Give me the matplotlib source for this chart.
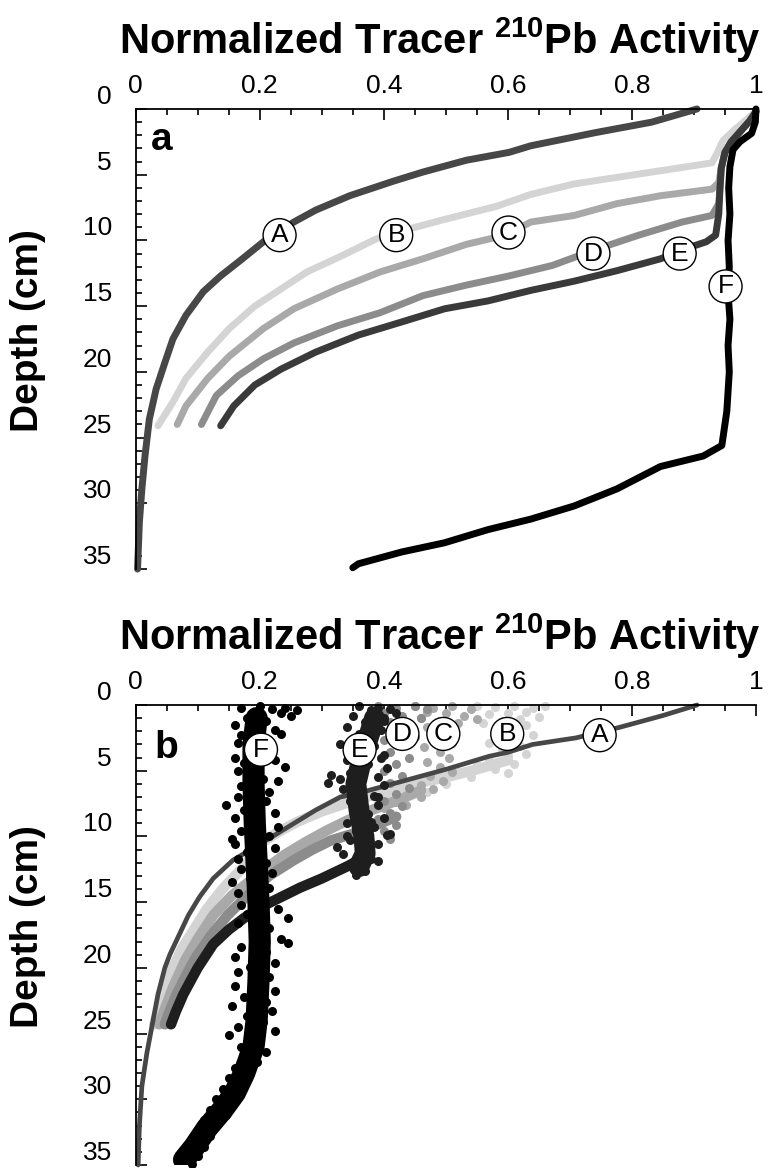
import matplotlib.pyplot as plt
from matplotlib.ticker import MultipleLocator

plt.rcParams['font.family'] = ['Liberation Sans', 'DejaVu Sans']

# tick labels
x_ticks = [0, 0.2, 0.4, 0.6, 0.8, 1.0]
x_ticklabels = ['0', '0.2', '0.4', '0.6', '0.8', '1']
y_ticks = [0, 5, 10, 15, 20, 25, 30, 35]
y_ticklabels = ['0', '5', '10', '15', '20', '25', '30', '35']

# ---------------- panel a : smooth profiles (activity, depth cm) ----------------
a_A_x = [0.905, 0.832, 0.741, 0.637, 0.602, 0.533, 0.463, 0.415, 0.345, 0.29, 0.255, 0.206,
         0.172, 0.137, 0.109, 0.081, 0.06, 0.047, 0.033, 0.022, 0.015, 0.01, 0.006, 0.003]
a_A_d = [0.0, 1.0, 1.8, 2.8, 3.3, 3.9, 4.8, 5.5, 6.6, 7.7, 8.6, 10.1,
         11.4, 12.7, 13.9, 15.7, 17.5, 19.3, 21.3, 23.6, 26.4, 28.9, 31.4, 35.0]

a_B_x = [1.0, 0.985, 0.965, 0.947, 0.938, 0.929, 0.86, 0.776, 0.707, 0.637, 0.582, 0.498,
         0.443, 0.387, 0.331, 0.276, 0.234, 0.192, 0.151, 0.116, 0.081, 0.06, 0.036]
a_B_d = [0.2, 0.8, 1.6, 2.4, 3.3, 4.1, 4.6, 5.2, 5.7, 6.5, 7.4, 8.4,
         9.1, 9.9, 11.2, 12.4, 13.7, 15.0, 16.7, 18.5, 20.5, 22.3, 24.1]

a_C_x = [1.0, 0.99, 0.975, 0.96, 0.95, 0.944, 0.94, 0.929, 0.846, 0.776, 0.707, 0.637,
         0.596, 0.533, 0.463, 0.394, 0.325, 0.255, 0.206, 0.151, 0.116, 0.081, 0.067]
a_C_d = [0.2, 0.9, 1.7, 2.5, 3.3, 4.5, 5.6, 6.1, 6.6, 7.2, 8.1, 8.6,
         9.6, 10.3, 11.4, 12.4, 13.7, 15.2, 16.7, 18.8, 20.5, 22.6, 24.0]

a_D_x = [1.0, 0.99, 0.975, 0.96, 0.95, 0.944, 0.942, 0.94, 0.929, 0.881, 0.811, 0.741,
         0.672, 0.602, 0.533, 0.463, 0.394, 0.325, 0.255, 0.206, 0.165, 0.13, 0.106]
a_D_d = [0.2, 0.9, 1.7, 2.5, 3.3, 4.5, 6.0, 7.2, 8.1, 8.6, 9.6, 10.7,
         11.9, 12.7, 13.4, 14.2, 15.5, 16.5, 17.8, 19.0, 20.3, 21.8, 24.0]

a_E_x = [1.0, 0.99, 0.975, 0.96, 0.95, 0.944, 0.942, 0.94, 0.935, 0.92, 0.901, 0.846,
         0.776, 0.707, 0.637, 0.568, 0.498, 0.429, 0.359, 0.29, 0.234, 0.192, 0.158, 0.137]
a_E_d = [0.2, 0.9, 1.7, 2.5, 3.3, 4.5, 6.0, 8.0, 9.6, 10.1, 10.4, 11.4,
         12.3, 13.1, 13.8, 14.6, 15.2, 16.2, 17.2, 18.5, 19.8, 21.0, 22.6, 24.1]

a_F_x = [1.0, 0.999, 0.993, 0.974, 0.963, 0.958, 0.956, 0.958, 0.955, 0.957, 0.955, 0.958,
         0.955, 0.957, 0.953, 0.945, 0.915, 0.846, 0.776, 0.707, 0.637, 0.568, 0.498,
         0.429, 0.359, 0.35]
a_F_d = [0.0, 1.0, 1.85, 2.5, 3.1, 4.4, 6.0, 8.0, 10.0, 12.0, 14.0, 16.0,
         18.0, 20.0, 23.0, 25.6, 26.4, 27.2, 28.9, 30.2, 31.2, 32.0, 33.0,
         33.7, 34.6, 34.9]

# ---------------- panel b : noisy profiles ----------------
b_A_x = [0.905, 0.85, 0.78, 0.71, 0.64, 0.6, 0.57, 0.5, 0.43, 0.36, 0.33, 0.29, 0.245, 0.2,
         0.157, 0.125, 0.103, 0.085, 0.071, 0.055, 0.047, 0.036, 0.028, 0.018, 0.01, 0.006, 0.004]
b_A_d = [0.0, 0.8, 1.7, 2.5, 3.0, 3.6, 3.9, 4.9, 5.8, 6.7, 7.0, 8.0, 9.3, 10.6,
         11.8, 13.2, 14.6, 16.0, 17.4, 19.0, 20.0, 22.0, 24.0, 26.5, 29.0, 32.0, 35.0]

b_B_x = [0.6, 0.55, 0.5, 0.45, 0.4, 0.35, 0.3, 0.26, 0.225, 0.19, 0.18, 0.14, 0.115,
         0.095, 0.075, 0.06, 0.047, 0.037, 0.03]
b_B_d = [4.2, 4.9, 5.5, 6.0, 6.6, 7.3, 8.1, 8.9, 9.8, 10.9, 12.0, 14.0, 15.5,
         17.0, 18.5, 20.0, 22.0, 23.3, 24.3]
b_B_pts_x = [0.55, 0.58, 0.61, 0.64, 0.66, 0.63, 0.6, 0.57, 0.65, 0.62, 0.59, 0.56, 0.63,
             0.6, 0.58, 0.64, 0.61, 0.57, 0.62, 0.59, 0.63, 0.6, 0.57, 0.61, 0.55, 0.58,
             0.52, 0.6, 0.54, 0.49, 0.5, 0.46, 0.44, 0.47, 0.41, 0.39, 0.36]
b_B_pts_d = [0.1, 0.15, 0.1, 0.2, 0.1, 0.5, 0.6, 0.7, 0.9, 1.1, 1.2, 1.4, 1.5,
             1.8, 2.1, 2.3, 2.6, 2.9, 3.1, 3.4, 3.7, 3.9, 4.2, 4.5, 4.6, 4.9,
             5.1, 5.2, 5.5, 5.6, 6.0, 6.1, 6.5, 6.6, 6.9, 7.3, 7.6]

b_C_x = [0.46, 0.42, 0.38, 0.345, 0.31, 0.275, 0.24, 0.205, 0.155, 0.125, 0.1, 0.08,
         0.06, 0.048, 0.038]
b_C_d = [6.5, 7.3, 8.0, 8.7, 9.5, 10.4, 11.4, 12.6, 14.5, 16.0, 17.8, 19.4,
         21.5, 23.0, 24.3]
b_C_pts_x = [0.45, 0.48, 0.51, 0.54, 0.47, 0.5, 0.53, 0.46, 0.49, 0.52, 0.55, 0.47,
             0.5, 0.48, 0.51, 0.465, 0.49, 0.505, 0.47, 0.49, 0.51, 0.475, 0.495, 0.46,
             0.48, 0.44, 0.46, 0.42, 0.4, 0.435]
b_C_pts_d = [0.1, 0.2, 0.1, 0.3, 0.5, 0.6, 0.8, 1.0, 1.2, 1.4, 1.1, 1.7,
             2.0, 2.5, 2.9, 3.2, 3.6, 4.0, 4.3, 4.7, 5.1, 5.4, 5.8, 6.1,
             6.4, 6.8, 7.0, 7.4, 7.8, 7.6]

b_D_x = [0.42, 0.385, 0.35, 0.315, 0.285, 0.255, 0.215, 0.178, 0.148, 0.122, 0.097,
         0.082, 0.066, 0.053, 0.047]
b_D_d = [8.5, 9.2, 9.8, 10.3, 11.0, 11.8, 13.0, 14.6, 16.0, 17.5, 19.2,
         20.5, 22.0, 23.5, 24.3]
b_D_pts_x = [0.39, 0.42, 0.45, 0.47, 0.4, 0.43, 0.46, 0.41, 0.44, 0.42, 0.45, 0.4,
             0.43, 0.41, 0.44, 0.42, 0.4, 0.43, 0.41, 0.44, 0.42, 0.4, 0.43, 0.41,
             0.39, 0.42, 0.4, 0.41, 0.38]
b_D_pts_d = [0.1, 0.2, 0.1, 0.3, 0.6, 0.8, 1.0, 1.3, 1.6, 2.0, 2.4, 2.7,
             3.1, 3.6, 4.0, 4.5, 5.0, 5.4, 5.9, 6.3, 6.8, 7.3, 7.7, 8.2,
             8.7, 9.1, 9.6, 10.2, 10.5]

b_E_core_x = [0.385, 0.375, 0.365, 0.355, 0.36, 0.368, 0.37, 0.36]
b_E_core_d = [1.0, 2.5, 4.0, 6.0, 8.0, 10.0, 11.3, 12.3]
b_E_x = [0.36, 0.34, 0.3, 0.265, 0.235, 0.205, 0.175, 0.15, 0.125, 0.1, 0.077, 0.065, 0.057]
b_E_d = [11.8, 12.3, 13.2, 13.9, 14.6, 15.3, 16.2, 17.1, 18.2, 20.0, 22.0, 23.3, 24.3]
b_E_pts_x = [0.36, 0.39, 0.41, 0.42, 0.35, 0.4, 0.37, 0.425, 0.34, 0.395,
             0.36, 0.41, 0.345, 0.385, 0.35, 0.4, 0.34, 0.375, 0.405,
             0.315, 0.33, 0.31, 0.345, 0.39, 0.4, 0.335, 0.36, 0.385,
             0.345, 0.39, 0.35, 0.375, 0.4, 0.34, 0.385, 0.355, 0.405, 0.345, 0.39,
             0.36, 0.335, 0.38, 0.35, 0.37, 0.41, 0.325, 0.39, 0.355,
             0.38, 0.4, 0.37, 0.33, 0.395, 0.35, 0.38, 0.34, 0.39, 0.365]
b_E_pts_d = [0.1, 0.2, 0.3, 0.6, 0.8, 1.0, 1.3, 1.5, 1.7, 1.9,
             2.2, 2.5, 2.8, 3.1, 3.5, 3.8, 4.2, 4.5, 4.8,
             5.3, 5.6, 5.9, 5.2, 5.5, 6.1, 6.4, 6.7, 6.9,
             7.3, 7.6, 8.0, 8.3, 8.6, 9.0, 9.3, 9.6, 9.9, 10.3, 10.6,
             11.0, 11.3, 11.7, 12.1, 12.6, 9.8, 10.8, 7.0, 12.9,
             0.4, 1.2, 2.0, 3.0, 4.0, 7.8, 8.9, 10.0, 11.9, 5.0]

b_F_core_x = [0.195, 0.19, 0.19, 0.192, 0.195, 0.198, 0.2, 0.198, 0.195, 0.19, 0.175, 0.16,
              0.14, 0.115, 0.095, 0.078]
b_F_core_d = [1.0, 3.0, 6.0, 9.0, 12.0, 15.0, 18.0, 21.0, 24.0, 26.0, 28.0, 29.5,
              30.8, 32.2, 33.6, 34.6]
b_F_pts_x = [0.17, 0.2, 0.22, 0.24, 0.26, 0.25, 0.235, 0.18, 0.21, 0.16, 0.19, 0.225, 0.17,
             0.2, 0.235, 0.165, 0.215,
             0.16, 0.175, 0.225, 0.24, 0.165, 0.205, 0.23, 0.17, 0.185,
             0.215, 0.165, 0.145, 0.21, 0.175, 0.225, 0.16, 0.2, 0.23, 0.17, 0.155, 0.215,
             0.16, 0.225, 0.18, 0.165, 0.21, 0.17, 0.22, 0.185, 0.155, 0.215, 0.165, 0.205,
             0.17, 0.23, 0.18, 0.245, 0.165, 0.215, 0.19, 0.235, 0.245, 0.17, 0.21, 0.16,
             0.225, 0.185,
             0.165, 0.215, 0.2, 0.16, 0.225, 0.175, 0.21, 0.155, 0.22, 0.18, 0.205, 0.165,
             0.225, 0.185, 0.2, 0.17, 0.15,
             0.21, 0.175, 0.195, 0.16, 0.185, 0.15, 0.175, 0.14, 0.165, 0.13, 0.155, 0.12,
             0.145, 0.11, 0.13, 0.1, 0.12, 0.09, 0.11, 0.08, 0.1, 0.07, 0.09, 0.125, 0.14]
b_F_pts_d = [0.2, 0.1, 0.3, 0.2, 0.4, 0.8, 0.6, 1.0, 1.2, 1.5, 1.7, 1.9, 2.3,
             2.5, 2.2, 2.9, 3.1,
             4.0, 4.4, 4.2, 4.7, 5.0, 5.6, 5.8, 6.2, 5.3,
             6.6, 7.0, 7.6, 7.3, 8.0, 8.2, 8.6, 8.9, 9.3, 9.6, 10.2, 10.0,
             10.6, 10.9, 11.2, 11.7, 12.0, 12.5, 12.8, 13.2, 13.5, 13.9, 14.3, 14.7,
             15.2, 15.5, 15.9, 16.2, 16.6, 17.0, 17.4, 17.8, 18.1, 18.4, 18.8, 19.2,
             19.6, 19.9,
             20.3, 20.7, 21.1, 21.4, 21.8, 22.2, 22.6, 22.9, 23.3, 23.7, 24.1, 24.5,
             24.8, 25.2, 25.6, 26.0, 25.1,
             26.4, 26.8, 27.2, 27.6, 28.0, 28.4, 28.8, 29.2, 29.6, 30.0, 30.4, 30.8,
             31.2, 31.6, 32.0, 32.4, 32.8, 33.2, 33.6, 34.0, 34.3, 34.6, 34.9, 31.0, 30.2]

col = {'A': '#474747', 'B': '#d4d4d4', 'C': '#a9a9a9', 'D': '#8c8c8c',
       'E': '#3a3a3a', 'F': '#000000'}
col_bE = '#1e1e1e'

fig = plt.figure(figsize=(7.74, 11.68), dpi=100)
ax1 = fig.add_axes([0.1753, 0.5128, 0.8014, 0.3939])
ax2 = fig.add_axes([0.1753, 0.0026, 0.8014, 0.3938])


def style(ax):
    ax.set_xlim(0, 1)
    ax.set_ylim(35, 0)
    ax.spines['right'].set_visible(False)
    ax.spines['bottom'].set_visible(False)
    for s in ['left', 'top']:
        ax.spines[s].set_linewidth(1.3)
    ax.xaxis.tick_top()
    ax.set_xticks(x_ticks)
    ax.set_xticklabels(x_ticklabels)
    ax.set_yticks(y_ticks)
    ax.set_yticklabels(y_ticklabels)
    ax.xaxis.set_minor_locator(MultipleLocator(0.05))
    ax.yaxis.set_minor_locator(MultipleLocator(1))
    ax.tick_params(which='both', direction='in', width=1.2)
    ax.tick_params(which='major', length=8)
    ax.tick_params(which='minor', length=4.5)
    ax.tick_params(axis='x', which='both', top=True, bottom=False, labelsize=19, pad=8)
    ax.tick_params(axis='y', which='both', left=True, right=False, labelsize=19, pad=17)
    for t in ax.get_yticklabels():
        t.set_verticalalignment('bottom')


def tag(ax, x, d, s):
    ax.text(x, d, s, ha='center', va='center', fontsize=19, zorder=20,
            bbox=dict(boxstyle='circle,pad=0.17', fc='white', ec='black', lw=1))


style(ax1)
style(ax2)

# panel a
lw = 5.0
for xs, ds, c in [(a_A_x, a_A_d, col['A']), (a_B_x, a_B_d, col['B']),
                  (a_C_x, a_C_d, col['C']), (a_D_x, a_D_d, col['D']),
                  (a_E_x, a_E_d, col['E']), (a_F_x, a_F_d, col['F'])]:
    ax1.plot(xs, ds, color=c, lw=lw, solid_capstyle='round', solid_joinstyle='round',
             clip_on=False)

for x, d, s in [(0.232, 9.6, 'A'), (0.42, 9.6, 'B'), (0.601, 9.4, 'C'),
                (0.738, 11.0, 'D'), (0.877, 11.0, 'E'), (0.951, 13.5, 'F')]:
    tag(ax1, x, d, s)
ax1.text(0.025, 3.1, 'a', fontsize=28, fontweight='bold', va='baseline')

# panel b
band = dict(lw=7.5, solid_capstyle='round', solid_joinstyle='round')
ax2.plot(b_B_pts_x, b_B_pts_d, 'o', color=col['B'], ms=6.5, mew=0, clip_on=False)
ax2.plot(b_B_x, b_B_d, color=col['B'], **band)
ax2.plot(b_C_pts_x, b_C_pts_d, 'o', color=col['C'], ms=6.5, mew=0, clip_on=False)
ax2.plot(b_C_x, b_C_d, color=col['C'], **band)
ax2.plot(b_D_pts_x, b_D_pts_d, 'o', color=col['D'], ms=6.5, mew=0, clip_on=False)
ax2.plot(b_D_x, b_D_d, color=col['D'], **band)
ax2.plot(b_A_x, b_A_d, color=col['A'], lw=3.4, solid_capstyle='round', clip_on=False)
ax2.plot(b_E_x, b_E_d, color=col_bE, **band)
ax2.plot(b_E_core_x, b_E_core_d, color=col_bE, lw=15, solid_capstyle='round')
ax2.plot(b_E_pts_x, b_E_pts_d, 'o', color=col_bE, ms=6.5, mew=0, clip_on=False)
ax2.plot(b_F_core_x, b_F_core_d, color=col['F'], lw=16, solid_capstyle='round')
ax2.plot(b_F_pts_x, b_F_pts_d, 'o', color=col['F'], ms=6.5, mew=0, clip_on=False)

for x, d, s in [(0.748, 2.3, 'A'), (0.599, 2.2, 'B'), (0.496, 2.2, 'C'),
                (0.43, 2.2, 'D'), (0.361, 3.4, 'E'), (0.202, 3.4, 'F')]:
    tag(ax2, x, d, s)
ax2.text(0.03, 4.0, 'b', fontsize=28, fontweight='bold', va='baseline')

title = r'Normalized Tracer $\mathregular{^{210}}$Pb Activity'
fig.text(0.568, 0.9538, title, ha='center', va='baseline', fontsize=30, fontweight='bold')
fig.text(0.568, 0.4435, title, ha='center', va='baseline', fontsize=30, fontweight='bold')
fig.text(0.036, 0.7166, 'Depth (cm)', rotation=90, ha='center', va='center',
         fontsize=28, fontweight='bold')
fig.text(0.036, 0.2063, 'Depth (cm)', rotation=90, ha='center', va='center',
         fontsize=28, fontweight='bold')

fig.savefig('out.png', dpi=100)
